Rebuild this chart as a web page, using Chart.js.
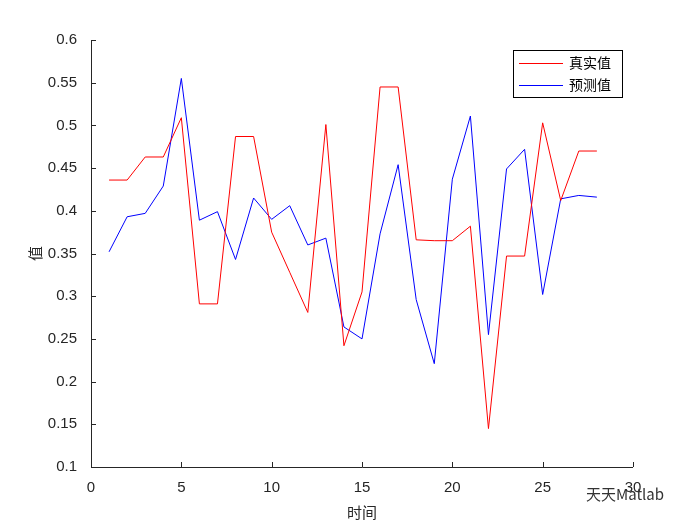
<!DOCTYPE html>
<html><head><meta charset="utf-8">
<script src="https://cdn.jsdelivr.net/npm/chart.js@4/dist/chart.umd.min.js"></script>
<style>body{margin:0;background:#fff}#w{width:700px;height:525px}</style>
</head><body><div id="w"><canvas id="c"></canvas></div>
<script>
const xs=[1,2,3,4,5,6,7,8,9,10,11,12,13,14,15,16,17,18,19,20,21,22,23,24,25,26,27,28];
const actual=[0.436,0.436,0.463,0.463,0.509,0.291,0.291,0.487,0.487,0.375,0.328,0.281,0.501,0.242,0.305,0.545,0.545,0.366,0.365,0.365,0.382,0.145,0.347,0.347,0.503,0.412,0.470,0.470];
const predicted=[0.352,0.393,0.397,0.429,0.555,0.389,0.399,0.343,0.415,0.390,0.406,0.360,0.368,0.264,0.250,0.373,0.454,0.296,0.221,0.437,0.511,0.255,0.449,0.472,0.302,0.414,0.418,0.416];
const seriesNames=['真实值','预测值'];
const xTicks=[0,5,10,15,20,25,30];
const tickFont={family:'Liberation Sans',size:15};
const cjk='"Noto Sans CJK SC"';
const extras={id:'extras',afterDraw(ch){
  const c=ch.ctx,a=ch.chartArea,sx=ch.scales.x,sy=ch.scales.y;
  c.save();c.strokeStyle='#262626';c.lineWidth=1;
  c.beginPath();
  c.moveTo(a.left+0.5,a.top);c.lineTo(a.left+0.5,a.bottom+0.5);c.lineTo(a.right,a.bottom+0.5);
  xTicks.forEach(v=>{const p=Math.round(sx.getPixelForValue(v))+0.5;c.moveTo(p,a.bottom);c.lineTo(p,a.bottom-5);});
  for(let v=0.1;v<=0.6001;v+=0.05){const p=Math.round(sy.getPixelForValue(v))+0.5;c.moveTo(a.left,p);c.lineTo(a.left+5,p);}
  c.stroke();
  const lx=513,ly=50,lw=109,lh=47;
  c.fillStyle='#fff';c.fillRect(lx,ly,lw,lh);
  c.strokeStyle='#000';c.strokeRect(lx+0.5,ly+0.5,lw,lh);
  const cols=['#ff0000','#0000ff'];
  c.font='14px '+cjk;c.textBaseline='middle';
  seriesNames.forEach((n,i)=>{const y=ly+13+i*22;c.strokeStyle=cols[i];c.beginPath();c.moveTo(lx+6,y+0.5);c.lineTo(lx+50,y+0.5);c.stroke();c.fillStyle='#000';c.fillText(n,lx+56,y);});
  c.fillStyle='#333';c.font='15px '+cjk;c.fillText('天天Matlab',586,494);
  c.restore();
}};
new Chart(document.getElementById('c'),{type:'line',
 data:{datasets:[
  {label:seriesNames[0],data:xs.map((x,i)=>({x,y:actual[i]})),borderColor:'#ff0000',borderWidth:1,pointRadius:0,tension:0},
  {label:seriesNames[1],data:xs.map((x,i)=>({x,y:predicted[i]})),borderColor:'#0000ff',borderWidth:1,pointRadius:0,tension:0}]},
 options:{animation:false,responsive:true,maintainAspectRatio:false,
  layout:{padding:{left:22,top:40,right:67,bottom:0}},
  plugins:{legend:{display:false},tooltip:{enabled:false}},
  scales:{
   x:{type:'linear',min:0,max:30,afterBuildTicks(s){s.ticks=xTicks.map(v=>({value:v}));},
      afterFit(s){s.height=58;},
      grid:{display:false},border:{display:false},
      ticks:{font:tickFont,color:'#262626',padding:4,maxRotation:0},
      title:{display:true,text:'时间',font:{family:cjk,size:15},color:'#262626',padding:{top:0}}},
   y:{min:0.1,max:0.6,afterFit(s){s.width=69;},
      grid:{display:false},border:{display:false},
      ticks:{stepSize:0.05,font:tickFont,color:'#262626',padding:6,callback:v=>String(+v.toFixed(2))},
      title:{display:true,text:'值',font:{family:cjk,size:15},color:'#262626',padding:{bottom:0}}}}},
 plugins:[extras]});
</script></body></html>
